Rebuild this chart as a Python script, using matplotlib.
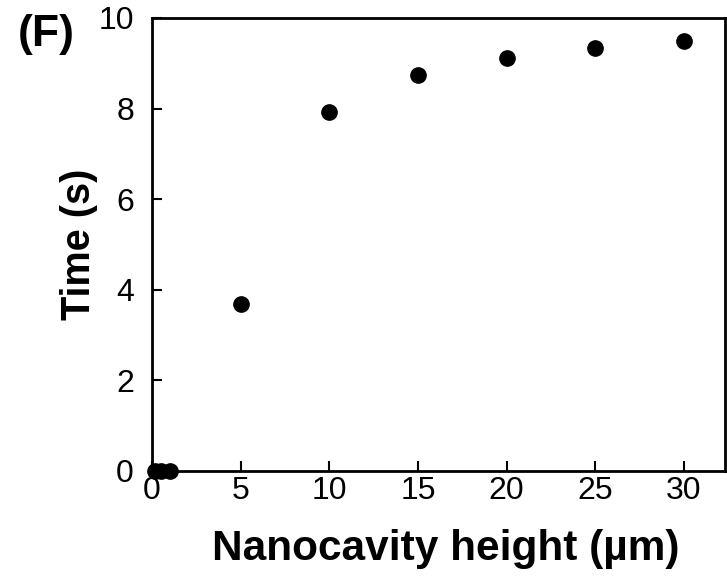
import matplotlib
matplotlib.use('Agg')
import matplotlib.pyplot as plt

plt.rcParams['font.family'] = ['Liberation Sans', 'DejaVu Sans']

height_um = [0.2, 0.5, 1.0, 5, 10, 15, 20, 25, 30]
time_s = [0.0, 0.0, 0.0, 3.68, 7.92, 8.74, 9.12, 9.34, 9.49]

fig = plt.figure(figsize=(7.27, 5.79), dpi=100)
ax = fig.add_axes([0.209, 0.187, 0.788, 0.782])

ax.plot(height_um, time_s, 'o', color='black', markersize=11, clip_on=False, zorder=3)

ax.set_xlim(0, 32.3)
ax.set_ylim(0, 10)
ax.set_xticks([0, 5, 10, 15, 20, 25, 30])
ax.set_yticks([0, 2, 4, 6, 8, 10])
ax.tick_params(direction='in', length=7, width=1.5, labelsize=23)
ax.tick_params(axis='x', pad=4)
ax.tick_params(axis='y', pad=13)
for s in ax.spines.values():
    s.set_linewidth(2)

ax.set_xlabel('Nanocavity height (µm)', fontsize=30.5, fontweight='bold')
ax.xaxis.set_label_coords(0.512, -0.128)
ax.set_ylabel('Time (s)', fontsize=28.5, fontweight='bold', labelpad=0)
fig.text(0.025, 0.94, '(F)', fontsize=32, fontweight='bold', va='center', ha='left')

fig.savefig('out.png', dpi=100)
